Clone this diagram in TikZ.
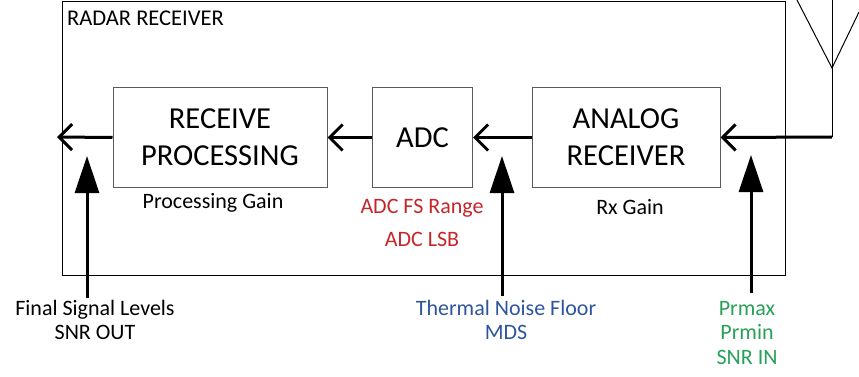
\documentclass[tikz,border=0pt]{standalone}
\usepackage{fontspec}
\setmainfont{Carlito}
\usetikzlibrary{arrows.meta}
\definecolor{lblred}{RGB}{196,38,42}
\definecolor{lblblue}{RGB}{47,84,158}
\definecolor{lblgreen}{RGB}{40,160,88}
\definecolor{boxgray}{RGB}{90,90,90}
\begin{document}
\begin{tikzpicture}[x=1pt,y=-1pt,
  blk/.style={draw=boxgray,line width=1pt,inner sep=0pt,align=center,font=\fontsize{30.5}{37}\selectfont},
  lbl/.style={inner sep=0pt,align=center,font=\fontsize{22}{24.5}\selectfont},
  sig/.style={line width=3pt,-{Straight Barb[length=13pt,width=26pt,line width=3pt]}},
  meas/.style={line width=3pt,-{Triangle[length=37pt,width=24pt]}}]
\useasboundingbox (0,0) rectangle (859,377);
% outer frame
\node[draw=black,line width=1pt,minimum width=723pt,minimum height=273pt,inner sep=0pt] (frame) at (423.5,138.5) {};
\node[lbl,font=\fontsize{22.5}{26}\selectfont,anchor=west] (title) at (67,18) {RADAR RECEIVER};
% blocks
\node[blk,minimum width=214pt,minimum height=100pt] (rp) at (220,137.5) {RECEIVE\\PROCESSING};
\node[blk,minimum width=100pt,minimum height=100pt] (adc) at (422.5,137.5) {ADC};
\node[blk,minimum width=188pt,minimum height=100pt] (ar) at (626,137.5) {ANALOG\\RECEIVER};
% antenna
\coordinate (apex) at (832,68);
\coordinate (ant) at (832,137);
\coordinate (antL) at (797,0);
\coordinate (antR) at (859,12);
\coordinate (antTop) at (832,0);
\draw[line width=1pt] (antL) -- (apex) -- (antR);
\draw[line width=1pt] (antTop) -- (ant);
% signal path
\coordinate (out) at (57,137);
\draw[sig] (ant) -- (ar.east);
\draw[sig] (ar.west) -- (adc.east);
\draw[sig] (adc.west) -- (rp.east);
\draw[sig] (rp.west) -- (out);
% labels under blocks
\node[lbl] (pg) at (213,203) {Processing Gain};
\node[lbl,text=lblred] (fs) at (422,208) {ADC FS Range};
\node[lbl,text=lblred] (lsb) at (422,239) {ADC LSB};
\node[lbl] (rx) at (630,207) {Rx Gain};
% measurement points
\coordinate (m1b) at (87,298);
\coordinate (m1t) at (87,156);
\coordinate (m2b) at (502,296);
\coordinate (m2t) at (502,156);
\coordinate (m3b) at (751,293);
\coordinate (m3t) at (751,155);
\draw[meas] (m1b) -- (m1t);
\draw[meas] (m2b) -- (m2t);
\draw[meas] (m3b) -- (m3t);
% bottom labels
\node[lbl,anchor=north] (fsl) at (95,300) {Final Signal Levels\\SNR OUT};
\node[lbl,anchor=north,text=lblblue] (tnf) at (506,300) {Thermal Noise Floor\\MDS};
\node[lbl,anchor=north,text=lblgreen] (pr) at (747,301) {Prmax\\Prmin\\SNR IN};
\end{tikzpicture}
\end{document}
